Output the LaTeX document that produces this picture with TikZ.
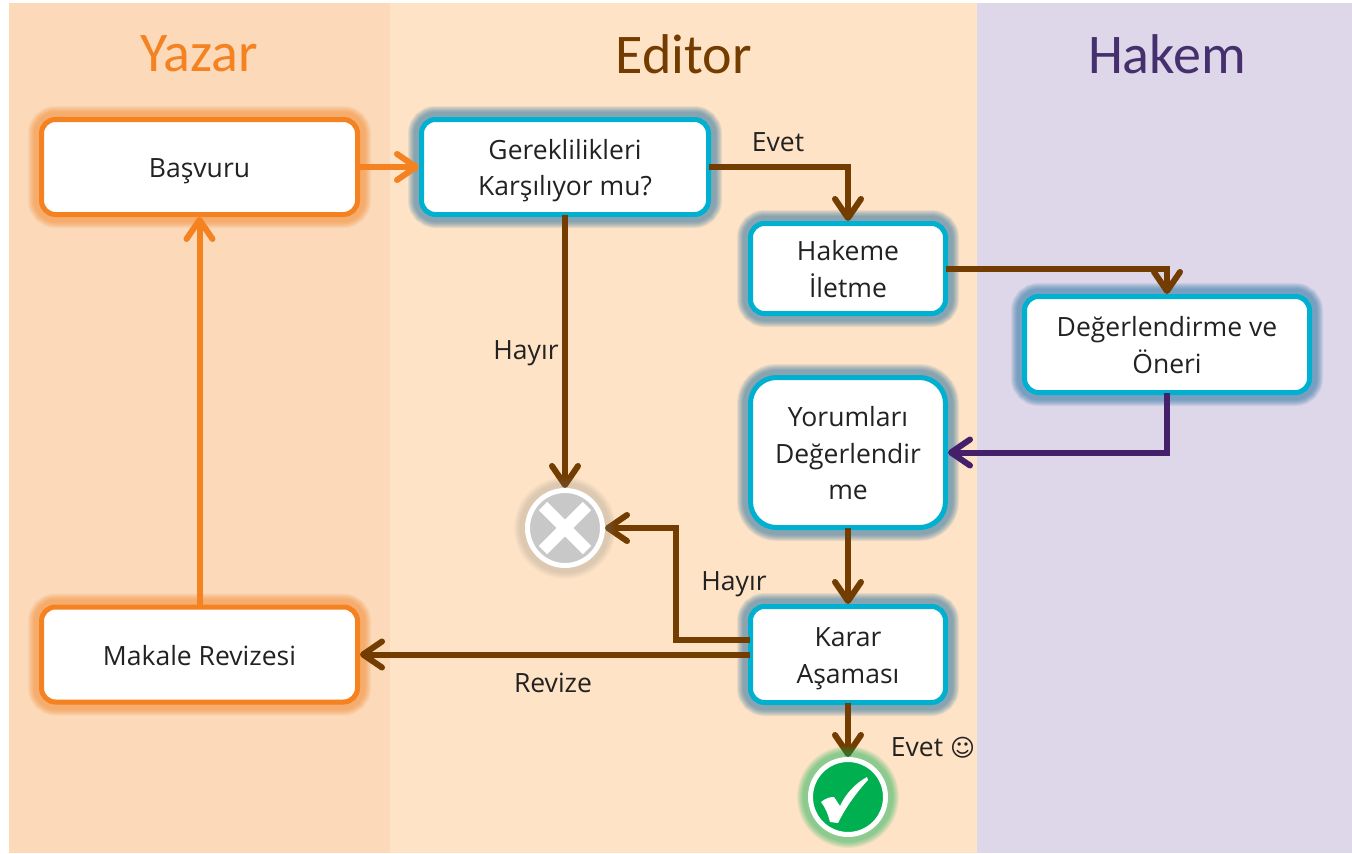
\documentclass[tikz,border=0pt]{standalone}
\usepackage{fontspec}
\setmainfont{Open Sans}
\newfontfamily\titlefont{Carlito}
\newfontfamily\symfont{DejaVu Sans}
\usetikzlibrary{arrows.meta,calc,positioning}
\pgfdeclarelayer{front}
\pgfsetlayers{main,front}
\definecolor{panelA}{HTML}{FBD9B9}
\definecolor{panelB}{HTML}{FEE3C6}
\definecolor{panelC}{HTML}{DED7E9}
\definecolor{orangeC}{HTML}{F58220}
\definecolor{cyanC}{HTML}{00B0D0}
\definecolor{brownC}{HTML}{733C00}
\definecolor{purpleC}{HTML}{45206A}
\definecolor{hakemT}{HTML}{45306E}
\definecolor{glowB}{HTML}{2373A1}
\definecolor{greyC}{HTML}{C8C8C8}
\definecolor{greenC}{HTML}{00B050}
\definecolor{textC}{HTML}{222222}
\newcommand{\boxlines}[1]{\raisebox{-9.5pt}[0pt][0pt]{\begin{tabular}{@{}c@{}}#1\end{tabular}}}
\tikzset{
  glowstack/.style n args={2}{
    preaction={draw=#1,draw opacity=#2,line width=27pt},
    preaction={draw=#1,draw opacity=#2,line width=25pt},
    preaction={draw=#1,draw opacity=#2,line width=23pt},
    preaction={draw=#1,draw opacity=#2,line width=21pt},
    preaction={draw=#1,draw opacity=#2,line width=19pt},
    preaction={draw=#1,draw opacity=#2,line width=17pt},
    preaction={draw=#1,draw opacity=#2,line width=15pt}},
  boxbase/.style={rectangle,rounded corners=14pt,fill=white,line width=5pt,
    inner sep=0pt,text=textC,font=\fontsize{26.5}{36.7}\selectfont},
  authorbox/.style={boxbase,draw=orangeC,glowstack={orangeC}{.09},minimum width=316pt,minimum height=95pt},
  editorbox/.style={boxbase,draw=cyanC,glowstack={glowB}{.10}},
  conn/.style={line width=6pt,draw=#1,shorten <=-2pt,-{Straight Barb[length=19pt,width=26pt,round,line width=6pt]}},
  lbl/.style={text=textC,font=\fontsize{26.5}{30}\selectfont,inner sep=0pt},
  paneltitle/.style={font=\titlefont\fontsize{56}{60}\selectfont,inner sep=0pt},
  endcircle/.style={circle,draw=white,line width=5pt,minimum size=75pt,inner sep=0pt}
}
\begin{document}
\begin{tikzpicture}[x=1pt,y=-1pt]
\useasboundingbox (0,0) rectangle (1352,854);
\fill[white] (0,0) rectangle (1352,854);
\fill[panelA] (9,3) rectangle (390,853);
\fill[panelB] (390,3) rectangle (977,853);
\fill[panelC] (977,3) rectangle (1352,853);

\node[paneltitle,text=orangeC] (tY) at (199,54) {Yazar};
\node[paneltitle,text=brownC] (tE) at (684,54) {Editor};
\node[paneltitle,text=hakemT] (tH) at (1167,54) {Hakem};

\node[authorbox] (bas) at (199.5,167) {\boxlines{Başvuru}};
\node[authorbox] (mak) at (199.5,654.5) {\boxlines{Makale Revizesi}};
\node[editorbox,minimum width=287pt,minimum height=95pt] (ger) at (565,167) {\boxlines{Gereklilikleri\\Karşılıyor mu?}};
\node[editorbox,minimum width=195pt,minimum height=90pt] (hak) at (848,268.5) {\boxlines{Hakeme\\İletme}};
\node[editorbox,minimum width=285pt,minimum height=96pt] (deg) at (1167,344.5) {\boxlines{Değerlendirme ve\\Öneri}};
\node[editorbox,rounded corners=26pt,minimum width=195pt,minimum height=150pt] (yor) at (848,452.5) {\boxlines{Yorumları\\Değerlendir\\me}};
\node[editorbox,minimum width=195pt,minimum height=96pt] (kar) at (848,654.5) {\boxlines{Karar\\Aşaması}};

\begin{pgfonlayer}{front}
\node[endcircle,fill=greyC,glowstack={gray}{.04}] (no) at (565,528) {};
\node[endcircle,fill=greenC,glowstack={greenC}{.08}] (ok) at (848,797) {};
\draw[white,line width=12pt] ($(no.center)+(-22,-22)$) -- ($(no.center)+(22,22)$);
\draw[white,line width=12pt] ($(no.center)+(-22,22)$) -- ($(no.center)+(22,-22)$);
\begin{scope}[shift={(ok.center)}]
\fill[white] (-27,5) .. controls (-22,1) and (-18,0) .. (-14,0) -- (-8,9) .. controls (-2,-4) and (8,-14) .. (19,-20) -- (20,-17) .. controls (8,-4) and (-2,10) .. (-10,26) -- (-18,25) .. controls (-20,17) and (-23,10) .. cycle;
\end{scope}
\end{pgfonlayer}

\coordinate (hb) at (676,640);
\draw[conn=orangeC] (bas.east) -- (ger.west);
\draw[conn=orangeC] (mak.north) -- (bas.south);
\draw[conn=brownC] (ger.east) -| (hak.north);
\draw[conn=brownC] (hak.east) -| (deg.north);
\draw[conn=purpleC] (deg.south) |- (yor.east);
\draw[conn=brownC] (yor.south) -- (kar.north);
\draw[conn=brownC] (kar.south) -- (ok.north);
\draw[conn=brownC] (ger.south) -- (no.north);
\draw[conn=brownC] ($(kar.west)+(0,-14.5)$) -- (hb) |- (no.east);
\draw[conn=brownC] (kar.west) -- (mak.east);

\node[lbl] (l1) at (778,142) {Evet};
\node[lbl] (l2) at (526,353) {Hayır};
\node[lbl] (l3) at (734,584) {Hayır};
\node[lbl] (l4) at (553,683) {Revize};
\node[lbl] (l5) at (933,748) {Evet {\symfont\fontsize{24}{30}\selectfont ☺}};
\end{tikzpicture}
\end{document}
